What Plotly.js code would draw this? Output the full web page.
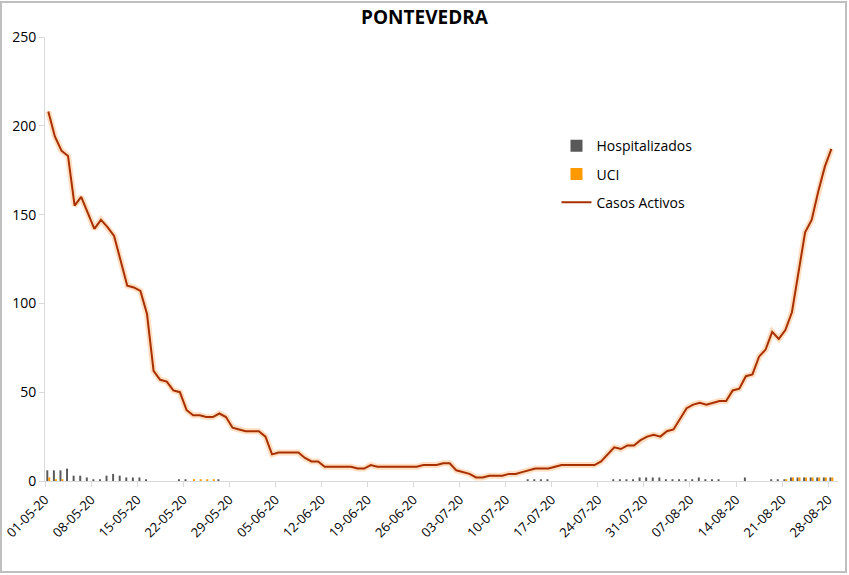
<!DOCTYPE html>
<html>
<head>
<meta charset="utf-8">
<script src="https://cdn.plot.ly/plotly-3.0.1.min.js"></script>
<style>html,body{margin:0;padding:0;background:#fff;}#chart{width:849px;height:575px;}</style>
</head>
<body>
<div id="chart"></div>
<script>
// ---- data ----
var startDate = '2020-05-01';
var nDays = 120;
var casosActivos = [208,194,186,183,155,160,151,142,147,143,138,124,110,109,107,94,62,57,56,51,
  50,40,37,37,36,36,38,36,30,29,28,28,28,25,15,16,16,16,16,13,
  11,11,8,8,8,8,8,7,7,9,8,8,8,8,8,8,8,9,9,9,
  10,10,6,5,4,2,2,3,3,3,4,4,5,6,7,7,7,8,9,9,
  9,9,9,9,11,15,19,18,20,20,23,25,26,25,28,29,35,41,43,44,
  43,44,45,45,51,52,59,60,70,74,84,80,85,95,118,140,147,163,177,187];
var hospitalizados = [6,6,6,7,3,3,2,1,1,3,4,3,2,2,2,1,0,0,0,0,
  1,1,0,0,0,0,1,0,0,0,0,0,0,0,0,0,0,0,0,0,
  0,0,0,0,0,0,0,0,0,0,0,0,0,0,0,0,0,0,0,0,
  0,0,0,0,0,0,0,0,0,0,0,0,0,1,1,1,1,0,0,0,
  0,0,0,0,0,0,1,1,1,1,2,2,2,2,1,1,1,1,1,2,
  1,1,1,0,0,0,2,0,0,0,1,1,1,2,2,2,2,2,2,2];
var uci = [2,1,1,0,0,0,0,0,0,0,0,0,0,0,0,0,0,0,0,0,
  0,0,1,1,1,1,0,0,0,0,0,0,0,0,0,0,0,0,0,0,
  0,0,0,0,0,0,0,0,0,0,0,0,0,0,0,0,0,0,0,0,
  0,0,0,0,0,0,0,0,0,0,0,0,0,0,0,0,0,0,0,0,
  0,0,0,0,0,0,0,0,0,0,0,0,0,0,0,0,0,0,0,0,
  0,0,0,0,0,0,0,0,0,0,0,0,1,2,2,2,2,2,2,2];
var seriesNames = ['Hospitalizados', 'UCI', 'Casos Activos'];
var chartTitle = 'PONTEVEDRA';

// dates (category positions, centred on each day)
var dates = [];
var d0 = new Date(startDate + 'T12:00:00Z');
for (var i = 0; i < nDays; i++) {
  var d = new Date(d0.getTime() + i * 86400000);
  dates.push(d.toISOString().slice(0, 19).replace('T', ' '));
}

var traces = [
  {type: 'bar', name: seriesNames[0], x: dates, y: hospitalizados,
   marker: {color: '#595959'}, legendgroup: 'a'},
  {type: 'bar', name: seriesNames[1], x: dates, y: uci,
   marker: {color: '#FF9900'}, legendgroup: 'b'},
  {type: 'scatter', mode: 'lines', x: dates, y: casosActivos, showlegend: false,
   hoverinfo: 'skip', line: {color: 'rgba(255,160,80,0.35)', width: 6}, legendgroup: 'g'},
  {type: 'scatter', mode: 'lines', name: seriesNames[2], x: dates, y: casosActivos,
   line: {color: '#A83000', width: 2}, legendgroup: 'c'}
];

var layout = {
  width: 849, height: 575,
  paper_bgcolor: '#fff', plot_bgcolor: '#fff',
  margin: {l: 45, r: 11, t: 37, b: 94},
  font: {family: 'Open Sans, Lato, sans-serif', color: '#000'},
  title: {text: '<b>' + chartTitle + '</b>', x: 0.5, xref: 'container', xanchor: 'center',
          y: 0.969, yref: 'container', yanchor: 'middle',
          font: {size: 19, color: '#000', family: 'Open Sans, sans-serif'}},
  barmode: 'group', bargap: 0.4, bargroupgap: 0,
  showlegend: true,
  legend: {x: 0.645, y: 0.79, xanchor: 'left', yanchor: 'top',
           font: {size: 14, color: '#000'}, bgcolor: 'rgba(0,0,0,0)',
           traceorder: 'grouped', tracegroupgap: 7},
  xaxis: {type: 'date', range: ['2020-05-01', '2020-08-29 12:00'],
          tick0: '2020-05-01', dtick: 7 * 86400000, tickformat: '%d-%m-%y',
          tickangle: -45, tickfont: {size: 13, color: '#000'},
          showline: true, linecolor: '#D9D9D9', linewidth: 1,
          ticks: 'outside', ticklen: 5, tickcolor: '#D9D9D9',
          showgrid: false, zeroline: false},
  yaxis: {range: [0, 250], dtick: 50, tickfont: {size: 14, color: '#000'},
          showline: true, linecolor: '#D9D9D9', linewidth: 1,
          ticks: 'outside', ticklen: 5, tickcolor: '#D9D9D9',
          showgrid: false, zeroline: false},
  shapes: [{type: 'rect', xref: 'paper', yref: 'paper',
            x0: -0.0555, x1: 1.0101, y0: -0.205, y1: 1.0788,
            line: {color: '#BFBFBF', width: 2}, fillcolor: 'rgba(0,0,0,0)', layer: 'below'}]
};

Plotly.newPlot('chart', traces, layout, {displayModeBar: false, staticPlot: true});
</script>
</body>
</html>
